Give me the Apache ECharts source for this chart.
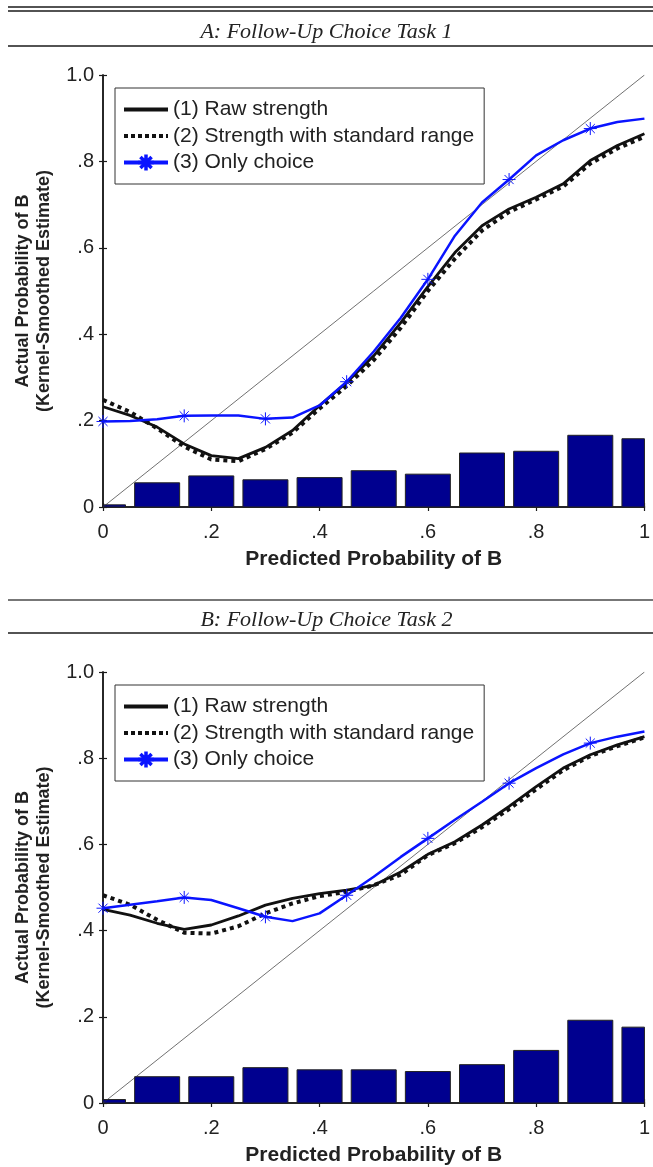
<!DOCTYPE html>
<html>
<head>
<meta charset="utf-8">
<script src="https://cdn.jsdelivr.net/npm/echarts@6/dist/echarts.min.js"></script>
<style>
  html, body { margin: 0; padding: 0; background: #fff; }
  #chart { width: 653px; height: 1167px; }
</style>
</head>
<body>
<div id="chart"></div>
<script>
// histogram bins (share of predictions in each bin)
var binX  = [0, 0.1, 0.2, 0.3, 0.4, 0.5, 0.6, 0.7, 0.8, 0.9, 1.0];
var barsA = [0.005, 0.056, 0.072, 0.063, 0.068, 0.084, 0.076, 0.125, 0.129, 0.166, 0.158];
var barsB = [0.008, 0.061, 0.061, 0.082, 0.077, 0.077, 0.073, 0.089, 0.122, 0.192, 0.176];

// kernel-smoothed curves
var curveX = [0, 0.05, 0.1, 0.15, 0.2, 0.25, 0.3, 0.35, 0.4, 0.45, 0.5,
              0.55, 0.6, 0.65, 0.7, 0.75, 0.8, 0.85, 0.9, 0.95, 1.0];
var rawA  = [0.232, 0.212, 0.185, 0.146, 0.119, 0.112, 0.138, 0.177, 0.235, 0.288, 0.350,
             0.427, 0.510, 0.589, 0.651, 0.690, 0.717, 0.748, 0.802, 0.837, 0.864];
var stdA  = [0.248, 0.220, 0.182, 0.140, 0.110, 0.106, 0.134, 0.172, 0.228, 0.280, 0.340,
             0.415, 0.500, 0.575, 0.640, 0.683, 0.712, 0.742, 0.795, 0.830, 0.857];
var onlyA = [0.198, 0.199, 0.203, 0.211, 0.212, 0.212, 0.204, 0.207, 0.235, 0.290, 0.360,
             0.438, 0.527, 0.628, 0.705, 0.758, 0.814, 0.849, 0.876, 0.891, 0.899];
var rawB  = [0.449, 0.436, 0.417, 0.403, 0.413, 0.434, 0.459, 0.475, 0.486, 0.494, 0.505,
             0.536, 0.577, 0.606, 0.645, 0.688, 0.734, 0.777, 0.808, 0.831, 0.850];
var stdB  = [0.482, 0.460, 0.425, 0.395, 0.393, 0.410, 0.440, 0.463, 0.480, 0.490, 0.505,
             0.530, 0.575, 0.603, 0.640, 0.682, 0.728, 0.772, 0.805, 0.828, 0.848];
var onlyB = [0.452, 0.460, 0.468, 0.477, 0.471, 0.452, 0.432, 0.422, 0.440, 0.482, 0.525,
             0.571, 0.614, 0.657, 0.699, 0.742, 0.777, 0.809, 0.835, 0.850, 0.862];

var diagonal = [0, 1];
var xTicks = ['0', '.2', '.4', '.6', '.8', '1'];
var yTicks = ['0', '.2', '.4', '.6', '.8', '1.0'];
var names = ['(1) Raw strength', '(2) Strength with standard range', '(3) Only choice'];
var panelTitles = ['A: Follow-Up Choice Task 1', 'B: Follow-Up Choice Task 2'];

var chart = echarts.init(document.getElementById('chart'));

var SANS = 'Liberation Sans, Arial, sans-serif';
var INK = '#1a1a1a';
var BLUE = '#0a14ff';
var star = 'path://M10,0L10,20M0,10L20,10M3,3L17,17M3,17L17,3';
var markerEvery = 3;
var barPx = 45;
var gridTops = [75, 672];

function pairs(xs, ys) {
  return xs.map(function (x, i) { return [x, ys[i]]; });
}

function tickLabel(list) {
  return function (v) { return list[Math.round(v / 0.2)]; };
}

// bars drawn through the axis scales, clipped to the plot box like matlab does
function renderBar(params, api) {
  var base = api.coord([api.value(0), 0]);
  var top = api.coord([api.value(0), api.value(1)]);
  var cs = params.coordSys;
  var rect = echarts.graphic.clipRectByRect(
    { x: base[0] - barPx / 2, y: top[1], width: barPx, height: base[1] - top[1] },
    { x: cs.x, y: cs.y, width: cs.width, height: cs.height }
  );
  if (!rect) return;
  return {
    type: 'rect', shape: rect,
    style: { fill: '#00008f', stroke: '#222', lineWidth: 1 }
  };
}

var panels = [
  { bars: barsA, raw: rawA, std: stdA, only: onlyA },
  { bars: barsB, raw: rawB, std: stdB, only: onlyB }
];

var grids = [], xAxes = [], yAxes = [], series = [], legends = [], titles = [];

panels.forEach(function (p, g) {
  grids.push({ left: 103, width: 543, top: gridTops[g], height: 432 });

  var axisBase = {
    type: 'value', min: 0, max: 1, interval: 0.2, gridIndex: g,
    axisLine: { show: true, lineStyle: { color: INK, width: 1.5 } },
    axisTick: { show: true, inside: true, length: 4, lineStyle: { color: INK, width: 1.2 } },
    splitLine: { show: false }
  };

  xAxes.push(Object.assign({}, axisBase, {
    position: 'bottom',
    axisLabel: { formatter: tickLabel(xTicks), fontSize: 20, fontFamily: SANS, color: '#222', margin: 15 },
    name: 'Predicted Probability of B', nameLocation: 'middle', nameGap: 42,
    nameTextStyle: { fontSize: 21, fontWeight: 'bold', fontFamily: SANS, color: '#222' }
  }));
  xAxes.push(Object.assign({}, axisBase, { position: 'top', axisLabel: { show: false } }));

  yAxes.push(Object.assign({}, axisBase, {
    position: 'left',
    axisLabel: { formatter: tickLabel(yTicks), fontSize: 20, fontFamily: SANS, color: '#222', margin: 9 },
    name: 'Actual Probability of B\n(Kernel-Smoothed Estimate)', nameLocation: 'middle', nameGap: 48,
    nameTextStyle: { fontSize: 18, fontWeight: 'bold', fontFamily: SANS, color: '#222', lineHeight: 21 }
  }));
  yAxes.push(Object.assign({}, axisBase, { position: 'right', axisLabel: { show: false } }));

  var xi = 2 * g, yi = 2 * g;

  series.push({
    type: 'custom', name: 'share', xAxisIndex: xi, yAxisIndex: yi,
    data: pairs(binX, p.bars), encode: { x: 0, y: 1 }, renderItem: renderBar,
    z: 1, silent: true
  });
  series.push({
    type: 'line', name: 'diag', xAxisIndex: xi, yAxisIndex: yi,
    data: pairs(diagonal, diagonal), symbol: 'none', z: 2,
    lineStyle: { color: '#333', width: 0.7 }, silent: true
  });
  series.push({
    type: 'line', name: names[0], xAxisIndex: xi, yAxisIndex: yi,
    data: pairs(curveX, p.raw), symbol: 'none', z: 3,
    lineStyle: { color: '#111', width: 2.8 }, itemStyle: { color: '#111' }
  });
  series.push({
    type: 'line', name: names[1], xAxisIndex: xi, yAxisIndex: yi,
    data: pairs(curveX, p.std), symbol: 'none', z: 3,
    lineStyle: { color: '#111', width: 4, type: [4, 4] }, itemStyle: { color: '#111' }
  });
  series.push({
    type: 'line', name: names[2], xAxisIndex: xi, yAxisIndex: yi,
    data: curveX.map(function (x, i) {
      var item = { value: [x, p.only[i]] };
      if (i % markerEvery !== 0) item.symbol = 'none';
      return item;
    }),
    symbol: star, symbolSize: 13, showSymbol: true, showAllSymbol: true, z: 4,
    lineStyle: { color: BLUE, width: 2.5 },
    itemStyle: { color: BLUE, borderColor: BLUE, borderWidth: 1 }
  });

  legends.push({
    data: [
      { name: names[0], itemStyle: { opacity: 0 }, lineStyle: { width: 4 } },
      { name: names[1], itemStyle: { opacity: 0 }, lineStyle: { width: 4, type: [4, 3] } },
      { name: names[2], itemStyle: { borderWidth: 3.5 }, lineStyle: { width: 4 } }
    ],
    orient: 'vertical', left: 115, top: gridTops[g] + 13,
    itemWidth: 44, itemHeight: 20, itemGap: 5.5,
    backgroundColor: '#fff', borderColor: '#333', borderWidth: 1,
    padding: [11, 10, 11, 7], selectedMode: false,
    textStyle: { fontSize: 21, fontFamily: SANS, color: '#222' }
  });

  titles.push({
    text: panelTitles[g], left: 'center', top: [21, 609][g], padding: 0,
    textStyle: { fontFamily: 'Liberation Serif, Times New Roman, serif', fontStyle: 'italic',
                 fontWeight: 'normal', fontSize: 22, color: '#222' }
  });
});

function rule(y, w, c) {
  return { type: 'line', shape: { x1: 8, y1: y, x2: 653, y2: y }, style: { stroke: c || INK, lineWidth: w } };
}

chart.setOption({
  animation: false,
  title: titles,
  grid: grids,
  xAxis: xAxes,
  yAxis: yAxes,
  legend: legends,
  series: series,
  graphic: [rule(7, 1.5), rule(11, 1.5), rule(46, 1.5), rule(600, 2, '#777'), rule(633, 1.5)]
});
</script>
</body>
</html>
